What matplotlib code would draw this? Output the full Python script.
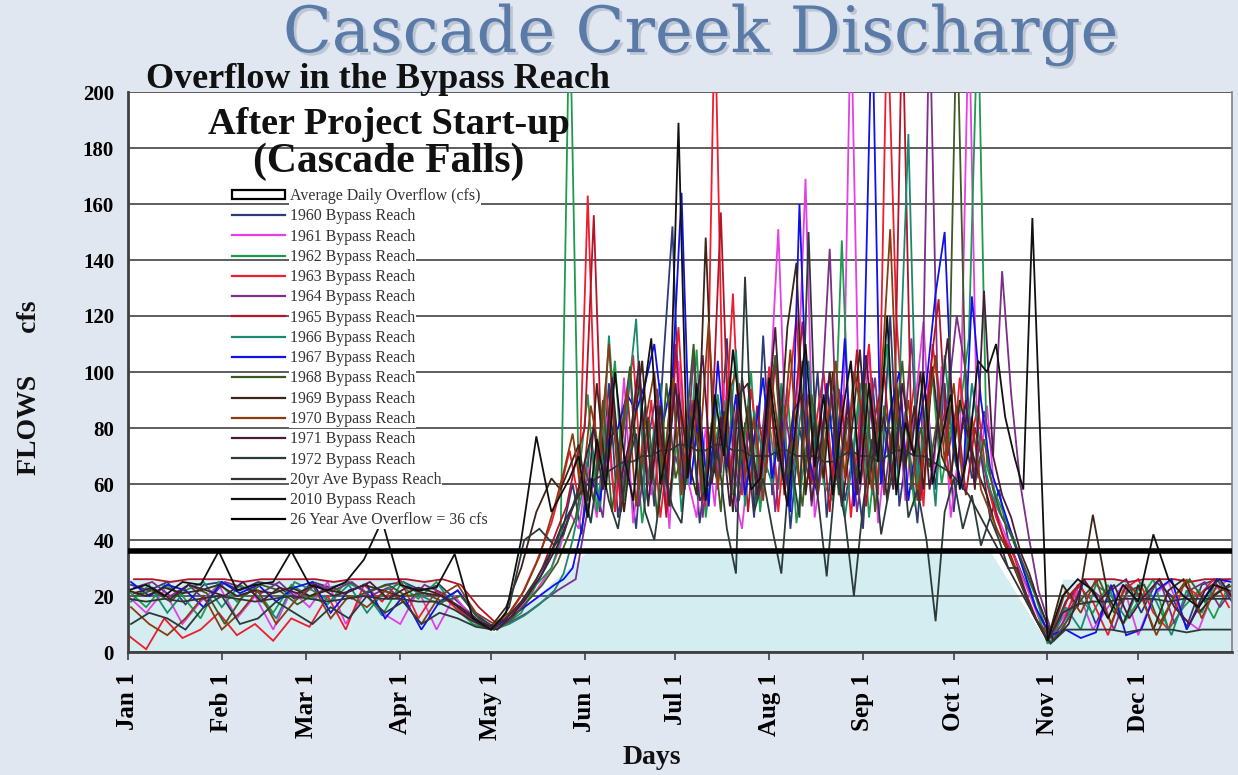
import numpy as np
import matplotlib
matplotlib.use("Agg")
import matplotlib.pyplot as plt
from matplotlib.lines import Line2D
from matplotlib.patches import Patch
import matplotlib.patheffects as pe

plt.rcParams["font.family"] = ["Liberation Serif", "DejaVu Serif"]

# ---- sampling days (day of year, 0 = Jan 1) ----
WINTER_DAYS = list(range(0, 115, 6))      # Jan - Apr
SPRING_DAYS = [120, 125, 130, 135, 140]    # May rise
SUMMER_DAYS = list(range(143, 300, 3))     # Jun - Oct
LATE_DAYS = list(range(304, 365, 5))       # Nov - Dec
SAMPLE_DAYS = np.array(WINTER_DAYS + SPRING_DAYS + SUMMER_DAYS + LATE_DAYS)

MONTH_STARTS = [0, 31, 59, 90, 120, 151, 181, 212, 243, 273, 304, 334]
MONTH_LABELS = ["Jan 1", "Feb 1", "Mar 1", "Apr 1", "May 1", "Jun 1",
                "Jul 1", "Aug 1", "Sep 1", "Oct 1", "Nov 1", "Dec 1"]
Y_TICKS = [0, 20, 40, 60, 80, 100, 120, 140, 160, 180, 200]

# ---- average daily overflow (shaded area) ----
OVERFLOW_DAYS = [0, 100, 121, 152, 285, 304, 309, 365]
OVERFLOW_CFS = [26, 26, 7, 36, 36, 3, 26, 26]

# ---- long-term average overflow ----
AVE_OVERFLOW = 36

# ---- bypass reach flows, cfs ----
Y1960 = ([24, 22, 25, 17, 24, 25, 22, 25, 24, 19, 25, 23, 25, 21, 24, 25, 22, 24, 18, 12]
         + [8, 12, 18, 26, 38]
         + [45, 60, 42, 78, 50, 96, 48, 70, 44, 88, 52, 104, 152, 58, 90, 46, 74, 60, 112, 50,
            82, 48, 113, 56, 94, 44, 80, 62, 100, 48, 86, 54, 72, 44, 98, 60, 120, 52, 76, 46,
            92, 58, 96, 50, 84, 62, 70, 48, 58, 40, 32, 24, 16]
         + [5, 18, 24, 10, 22, 26, 14, 25, 20, 9, 24, 26, 18])
Y1961 = ([20, 14, 22, 10, 18, 24, 12, 20, 8, 22, 16, 25, 10, 21, 14, 10, 22, 8, 20, 12]
         + [9, 11, 16, 22, 30]
         + [38, 50, 44, 66, 48, 84, 52, 98, 46, 72, 56, 90, 44, 104, 62, 48, 80, 52, 96, 58,
            44, 76, 54, 88, 151, 60, 82, 169, 48, 70, 92, 52, 230, 66, 108, 46, 78, 96, 54, 86,
            118, 60, 102, 48, 74, 230, 62, 88, 50, 42, 34, 26, 18]
         + [4, 12, 22, 8, 16, 24, 6, 20, 25, 12, 8, 22, 26])
Y1962 = ([22, 16, 24, 20, 12, 25, 18, 23, 14, 24, 20, 17, 25, 22, 13, 24, 19, 25, 16, 10]
         + [8, 10, 14, 24, 30]
         + [40, 235, 62, 92, 50, 76, 104, 54, 84, 46, 70, 96, 52, 80, 60, 108, 48, 74, 90, 56,
            66, 100, 50, 82, 58, 94, 46, 72, 88, 60, 54, 147, 64, 96, 48, 78, 110, 58, 86, 52,
            74, 98, 60, 80, 86, 112, 230, 66, 56, 48, 40, 30, 20]
         + [3, 8, 20, 14, 24, 10, 18, 26, 8, 16, 22, 12, 24])
Y1963 = ([6, 1, 12, 5, 8, 14, 6, 10, 4, 12, 9, 20, 8, 24, 18, 26, 12, 22, 16, 11]
         + [8, 12, 20, 32, 46]
         + [58, 72, 54, 163, 64, 96, 50, 82, 106, 58, 90, 48, 76, 116, 62, 84, 52, 230, 70, 128,
            56, 94, 66, 102, 50, 86, 120, 58, 78, 100, 62, 92, 48, 84, 110, 56, 230, 120, 70, 96,
            52, 110, 84, 60, 98, 72, 88, 60, 48, 40, 34, 24, 14]
         + [4, 10, 24, 18, 6, 22, 26, 14, 8, 24, 20, 26, 16])
Y1964 = ([23, 25, 20, 24, 18, 25, 23, 21, 25, 19, 24, 22, 25, 20, 23, 17, 24, 21, 15, 10]
         + [9, 11, 14, 18, 22]
         + [24, 26, 45, 62, 48, 88, 56, 100, 52, 76, 94, 50, 70, 58, 106, 48, 82, 64, 96, 54,
            78, 60, 92, 50, 88, 66, 104, 52, 84, 144, 58, 92, 50, 74, 98, 56, 82, 68, 112, 54,
            230, 76, 90, 120, 100, 62, 86, 70, 136, 92, 60, 40, 22]
         + [5, 14, 25, 20, 8, 24, 18, 26, 10, 22, 25, 16, 24])
Y1965 = ([26, 26, 25, 26, 26, 26, 25, 26, 26, 26, 26, 25, 26, 26, 26, 26, 25, 26, 24, 16]
         + [10, 14, 20, 30, 44]
         + [52, 68, 80, 156, 58, 92, 50, 76, 100, 60, 84, 48, 110, 66, 90, 54, 78, 157, 62, 96,
            50, 88, 64, 104, 56, 82, 118, 60, 86, 50, 94, 70, 108, 52, 84, 100, 60, 230, 76, 54,
            98, 126, 70, 88, 56, 80, 66, 54, 42, 34, 26, 18, 10]
         + [6, 20, 26, 26, 26, 25, 26, 26, 26, 25, 26, 26, 26])
Y1966 = ([18, 24, 14, 22, 25, 16, 24, 20, 12, 25, 22, 18, 24, 14, 22, 25, 20, 17, 22, 14]
         + [8, 10, 13, 17, 22]
         + [28, 40, 56, 76, 52, 113, 66, 88, 119, 54, 80, 62, 98, 50, 84, 70, 56, 92, 64, 108,
            52, 86, 70, 60, 96, 54, 82, 104, 58, 76, 90, 48, 72, 100, 56, 84, 66, 94, 185, 60,
            88, 52, 106, 70, 58, 96, 72, 58, 50, 44, 36, 28, 20]
         + [3, 16, 8, 24, 20, 12, 25, 18, 6, 22, 14, 26, 20])
Y1967 = ([25, 20, 24, 22, 16, 25, 21, 24, 18, 23, 25, 14, 22, 24, 12, 20, 8, 18, 22, 13]
         + [9, 12, 16, 20, 24]
         + [26, 30, 44, 62, 54, 76, 80, 92, 86, 96, 110, 82, 98, 164, 60, 88, 52, 104, 66, 92,
            56, 76, 98, 62, 84, 50, 160, 70, 56, 96, 64, 112, 52, 88, 230, 60, 86, 100, 54, 78,
            96, 128, 150, 72, 58, 127, 90, 66, 56, 46, 36, 26, 16]
         + [6, 8, 5, 7, 24, 6, 8, 22, 26, 8, 18, 26, 25])
Y1968 = ([20, 22, 18, 24, 21, 10, 20, 24, 22, 17, 21, 23, 19, 22, 24, 20, 21, 18, 20, 12]
         + [8, 12, 18, 24, 32]
         + [40, 48, 66, 54, 90, 50, 78, 102, 58, 84, 48, 96, 62, 74, 110, 56, 82, 50, 98, 64,
            88, 54, 80, 106, 60, 76, 52, 92, 68, 100, 56, 84, 62, 96, 50, 88, 72, 104, 58, 80,
            66, 86, 72, 230, 90, 60, 76, 58, 48, 42, 34, 26, 18]
         + [4, 12, 20, 26, 14, 22, 24, 10, 20, 26, 18, 22, 24])
Y1969 = ([22, 20, 23, 21, 22, 24, 20, 22, 21, 23, 20, 22, 21, 24, 22, 20, 23, 21, 17, 12]
         + [9, 16, 30, 50, 62]
         + [58, 66, 74, 54, 96, 62, 84, 50, 78, 104, 60, 88, 52, 92, 70, 56, 148, 64, 86, 50,
            98, 72, 58, 94, 68, 116, 139, 56, 82, 62, 100, 52, 76, 108, 60, 84, 54, 96, 66, 88,
            58, 102, 70, 62, 90, 76, 64, 56, 44, 38, 30, 22, 14]
         + [4, 24, 16, 49, 20, 10, 24, 8, 22, 26, 14, 20, 24])
Y1970 = ([16, 10, 6, 12, 20, 8, 14, 22, 10, 18, 24, 12, 20, 16, 22, 18, 10, 20, 24, 14]
         + [10, 14, 22, 34, 52]
         + [64, 78, 56, 88, 70, 110, 60, 94, 52, 82, 100, 64, 98, 56, 86, 72, 118, 58, 90, 100,
            62, 84, 54, 96, 70, 108, 60, 92, 56, 80, 104, 62, 100, 84, 58, 96, 151, 66, 90, 54,
            82, 106, 68, 96, 60, 84, 58, 50, 42, 36, 28, 20, 12]
         + [5, 22, 14, 26, 10, 24, 20, 6, 18, 26, 12, 24, 20])
Y1971 = ([21, 23, 19, 24, 22, 20, 25, 18, 23, 21, 24, 20, 22, 25, 19, 23, 21, 20, 16, 11]
         + [8, 13, 20, 28, 38]
         + [46, 54, 68, 80, 58, 98, 62, 76, 104, 52, 88, 62, 96, 58, 82, 106, 60, 84, 52, 92,
            96, 56, 78, 116, 60, 86, 92, 54, 74, 100, 62, 88, 56, 106, 70, 84, 58, 96, 72, 100,
            58, 84, 112, 66, 90, 58, 129, 70, 56, 48, 36, 28, 18]
         + [4, 10, 26, 18, 24, 12, 20, 26, 16, 10, 22, 26, 18])
Y1972 = ([10, 14, 12, 8, 16, 20, 10, 12, 18, 14, 10, 16, 12, 20, 14, 18, 10, 14, 12, 9]
         + [8, 16, 40, 44, 38]
         + [42, 52, 62, 46, 70, 54, 44, 66, 78, 50, 40, 64, 52, 46, 84, 54, 60, 72, 44, 28,
            134, 50, 62, 44, 28, 70, 48, 150, 56, 27, 64, 48, 20, 52, 76, 42, 60, 84, 48, 58,
            40, 11, 50, 62, 44, 56, 38, 48, 40, 30, 30, 20, 12]
         + [3, 8, 8, 8, 8, 7, 8, 8, 8, 7, 8, 8, 8])
Y20YR_AVE = ([19, 18, 19, 18, 19, 20, 19, 18, 19, 20, 19, 18, 19, 20, 19, 19, 18, 18, 15, 11]
             + [8, 12, 18, 26, 36]
             + [44, 50, 56, 60, 62, 64, 66, 68, 68, 70, 70, 72, 72, 74, 74, 72, 72, 74, 74, 72,
                72, 70, 70, 70, 72, 72, 70, 70, 70, 68, 68, 70, 72, 70, 70, 68, 70, 72, 72, 70,
                70, 68, 66, 64, 60, 56, 50, 44, 38, 32, 26, 20, 14]
             + [4, 14, 17, 18, 18, 19, 19, 19, 18, 19, 19, 19, 19])
Y2010 = ([22, 24, 20, 25, 24, 36, 22, 24, 25, 36, 24, 22, 25, 33, 47, 24, 22, 23, 35, 12]
         + [8, 14, 40, 77, 50]
         + [56, 62, 70, 48, 76, 58, 100, 70, 54, 88, 112, 60, 78, 189, 62, 96, 54, 92, 70, 108,
            80, 58, 62, 98, 74, 52, 84, 110, 66, 92, 56, 84, 104, 60, 96, 68, 120, 56, 82, 70,
            100, 60, 76, 92, 58, 72, 104, 100, 110, 84, 70, 58, 155]
         + [4, 20, 26, 22, 12, 24, 18, 42, 26, 20, 16, 24, 22])

SERIES_LABELS = ["1960 Bypass Reach", "1961 Bypass Reach", "1962 Bypass Reach",
                 "1963 Bypass Reach", "1964 Bypass Reach", "1965 Bypass Reach",
                 "1966 Bypass Reach", "1967 Bypass Reach", "1968 Bypass Reach",
                 "1969 Bypass Reach", "1970 Bypass Reach", "1971 Bypass Reach",
                 "1972 Bypass Reach", "20yr Ave Bypass Reach", "2010 Bypass Reach"]
SERIES_VALUES = [Y1960, Y1961, Y1962, Y1963, Y1964, Y1965, Y1966, Y1967, Y1968,
                 Y1969, Y1970, Y1971, Y1972, Y20YR_AVE, Y2010]
# recording day offset of each year's sample grid
SERIES_DAY_SHIFT = [1, 0, 0, 0, 2, 2, 1, 1, 2, 0, 1, 2, 1, 0, 0]

SERIES_COLORS = ["#2f3a78", "#e53ee5", "#1e9a50", "#ee1c2c", "#7b2f86", "#b3142a",
                 "#1a8a6e", "#1010ee", "#3d5a22", "#3b2418", "#8a3b12", "#4a1c38",
                 "#2b3b3b", "#333333", "#111111"]

W, H = 1238, 775
fig = plt.figure(figsize=(W / 100, H / 100), dpi=100, facecolor="#e1e7f0")


def fx(px):
    return px / W


def fy(py):
    return 1 - py / H


ax = fig.add_axes([fx(128), fy(652), fx(1232) - fx(128), fy(92) - fy(652)])
ax.set_facecolor("white")
ax.set_xlim(0, 365)
ax.set_ylim(0, 200)

ax.fill_between(OVERFLOW_DAYS, OVERFLOW_CFS, 0, color="#d3edf0", lw=0, zorder=0.4)

for vals, shift, col in zip(SERIES_VALUES, SERIES_DAY_SHIFT, SERIES_COLORS):
    ax.plot(SAMPLE_DAYS + shift, vals, color=col, lw=1.3, zorder=2,
            solid_joinstyle="miter")

ax.axhline(AVE_OVERFLOW, color="black", lw=4, zorder=3)

ax.set_axisbelow("line")
ax.yaxis.grid(True, color="#505050", lw=1.3)
ax.set_yticks(Y_TICKS)
ax.set_yticklabels([str(v) for v in Y_TICKS], fontsize=15, fontweight="bold")
ax.tick_params(axis="y", length=0, pad=10)
ax.set_xticks(MONTH_STARTS)
ax.set_xticklabels(MONTH_LABELS, rotation=90, fontsize=18, fontweight="bold")
ax.tick_params(axis="x", length=6, width=1.2, color="#404040", pad=9, direction="out")

for side in ["left", "bottom"]:
    ax.spines[side].set_color("#404040")
    ax.spines[side].set_linewidth(2)
ax.spines["right"].set_color("#808080")
ax.spines["right"].set_linewidth(1.2)
ax.spines["top"].set_visible(False)

# legend
handles = [Patch(facecolor="white", edgecolor="black", linewidth=1.6)]
labels = ["Average Daily Overflow (cfs)"]
for lab, col in zip(SERIES_LABELS, SERIES_COLORS):
    handles.append(Line2D([], [], color=col, lw=1.6))
    labels.append(lab)
handles.append(Line2D([], [], color="black", lw=1.6))
labels.append("26 Year Ave Overflow = %d cfs" % AVE_OVERFLOW)
leg = ax.legend(handles, labels, loc="upper left", bbox_to_anchor=(fx(232), fy(188)),
                bbox_transform=fig.transFigure, frameon=False, fontsize=11.4,
                handlelength=3.35, handleheight=0.55, handletextpad=0.32,
                labelspacing=0.27, borderpad=0, borderaxespad=0)
for t in leg.get_texts():
    t.set_color("#333333")
    t.set_bbox(dict(facecolor="white", edgecolor="none", pad=0.5))

# titles
fig.text(fx(700), fy(35), "Cascade Creek Discharge", fontsize=46, color="#5a7aa8",
         family="DejaVu Serif", ha="center", va="center",
         path_effects=[pe.withSimplePatchShadow(offset=(2, -2), shadow_rgbFace="#9aa6b6", alpha=0.5)])
fig.text(fx(378), fy(79), "Overflow in the Bypass Reach", fontsize=26, fontweight="bold",
         ha="center", va="center", color="#111111")
fig.text(fx(389), fy(124), "After Project Start-up", fontsize=27.5, fontweight="bold",
         ha="center", va="center", color="#111111")
fig.text(fx(389), fy(162), "(Cascade Falls)", fontsize=30, fontweight="bold",
         ha="center", va="center", color="#111111")

fig.text(fx(30), fy(388), "FLOWS      cfs", fontsize=20, fontweight="bold",
         rotation=90, ha="center", va="center", color="#111111")
fig.text(fx(652), fy(757), "Days", fontsize=20, fontweight="bold",
         ha="center", va="center", color="#111111")

fig.savefig("out.png", dpi=100, facecolor=fig.get_facecolor())
